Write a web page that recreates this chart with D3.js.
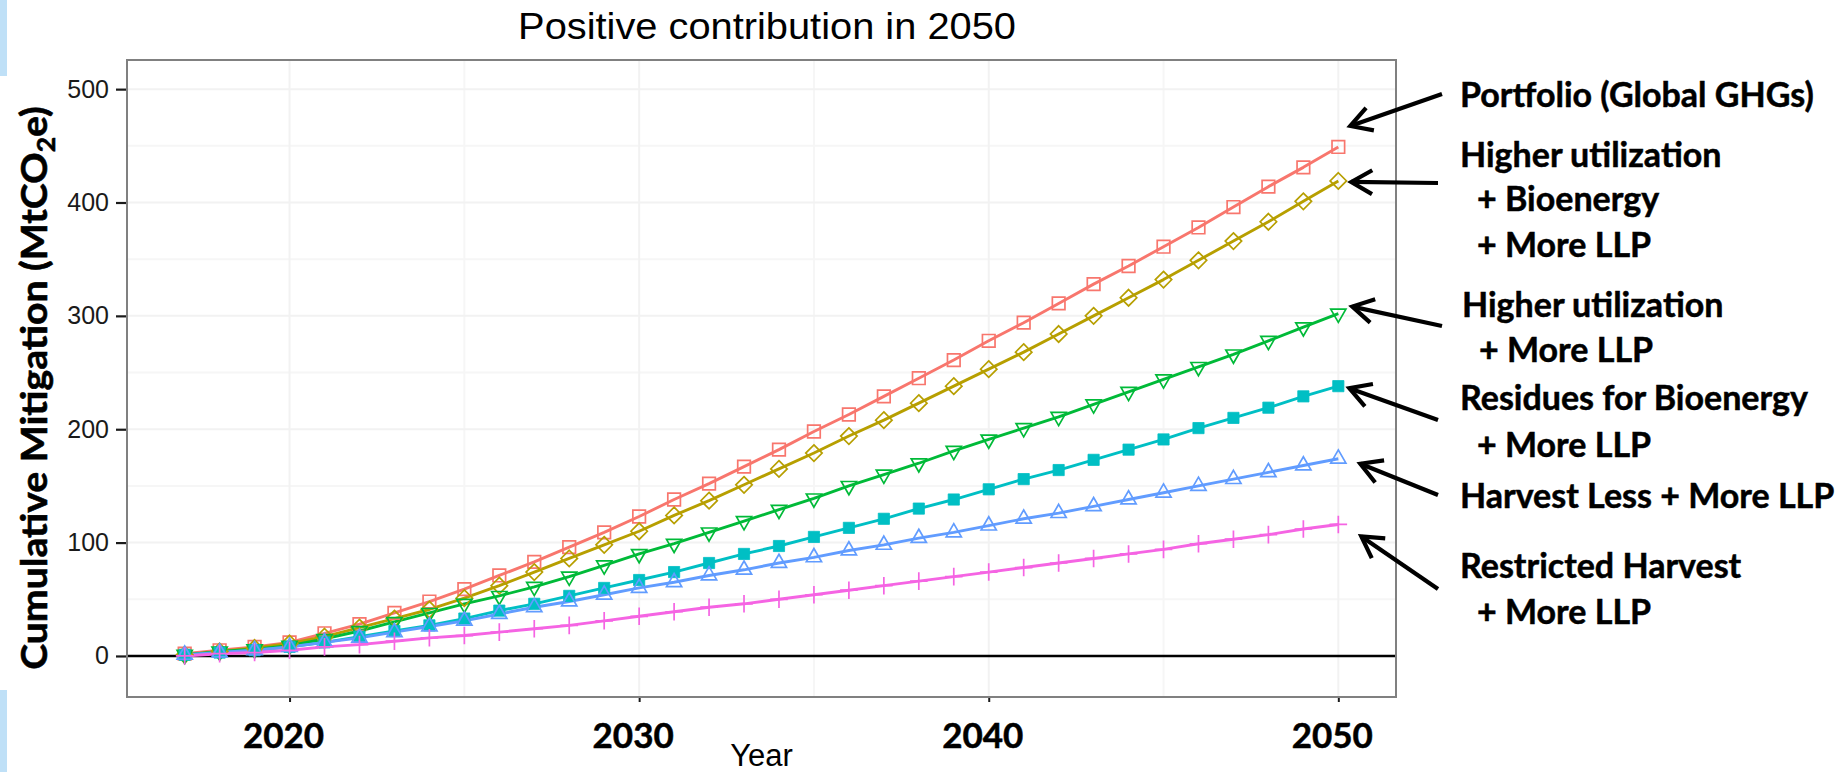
<!DOCTYPE html>
<html>
<head>
<meta charset="utf-8">
<script src="https://cdn.jsdelivr.net/npm/d3@7"></script>
<style>
  html, body { margin: 0; padding: 0; background: #ffffff; }
  svg { display: block; }
</style>
</head>
<body>
<svg id="chart" width="1843" height="772"></svg>
<script>
// ---- data -------------------------------------------------------------
const years = d3.range(2017, 2051);

const portfolio       = [2, 5, 8, 12, 20, 28, 38, 48, 59, 71, 83, 96, 109, 123, 138, 152, 167, 182, 198, 213, 229, 245, 261, 278, 294, 311, 328, 344, 361, 378, 396, 414, 431, 449];
const higherUtilBio   = [1, 4, 7, 11, 17, 25, 33, 41, 51, 62, 74, 86, 98, 110, 124, 137, 151, 165, 179, 194, 208, 223, 238, 253, 268, 284, 300, 316, 332, 349, 366, 383, 401, 419];
const higherUtilLLP   = [1, 4, 6, 9, 15, 22, 30, 38, 46, 53, 61, 70, 80, 90, 99, 109, 119, 129, 139, 150, 160, 170, 181, 191, 201, 211, 222, 233, 244, 255, 266, 278, 290, 302];
const residuesBio     = [1, 3, 5, 8, 12, 17, 22, 27, 33, 40, 46, 53, 60, 67, 74, 82, 90, 97, 105, 113, 121, 130, 138, 147, 156, 164, 173, 182, 191, 201, 210, 219, 229, 238];
const harvestLess     = [1, 3, 5, 8, 12, 16, 21, 26, 31, 37, 43, 48, 54, 60, 65, 71, 76, 82, 87, 93, 98, 104, 109, 115, 121, 126, 132, 138, 144, 150, 156, 162, 168, 174];
const restrictedHarv  = [0, 2, 3, 5, 8, 10, 13, 16, 18, 21, 24, 27, 31, 35, 39, 43, 46, 50, 54, 58, 62, 66, 70, 74, 78, 82, 86, 90, 94, 99, 103, 107, 112, 116];

const seriesValues = [portfolio, higherUtilBio, higherUtilLLP, residuesBio, harvestLess, restrictedHarv];
const seriesColors = ["#F8766D", "#B79F00", "#00BA38", "#00BFC4", "#619CFF", "#F564E3"];
const seriesShapes = ["square", "diamond", "triangleDown", "squareFilled", "triangleUp", "plus"];

const seriesLabels = [
  ["Portfolio (Global GHGs)"],
  ["Higher utilization", "+ Bioenergy", "+ More LLP"],
  ["Higher utilization", "+ More LLP"],
  ["Residues for Bioenergy", "+ More LLP"],
  ["Harvest Less + More LLP"],
  ["Restricted Harvest", "+ More LLP"]
];

const yTicks = [0, 100, 200, 300, 400, 500];
const yMinor = [50, 150, 250, 350, 450];
const xTicks = [2020, 2030, 2040, 2050];
const xMinor = [2025, 2035, 2045];
const xTickLabels = ["2020", "2030", "2040", "2050"];

const titleText = "Positive contribution in 2050";
const xTitle = "Year";

// ---- layout -----------------------------------------------------------
const svg = d3.select("#chart");
const panel = { left: 127, right: 1396, top: 60, bottom: 697 };

const x = d3.scaleLinear().domain([2015.35, 2051.65]).range([panel.left, panel.right]);
const y = d3.scaleLinear().domain([-36.2, 525.7]).range([panel.bottom, panel.top]);

const labelFont = "Lato, 'Open Sans', sans-serif";
const plotFont = "'Liberation Sans', Arial, sans-serif";

// horizontal factor that brings a text element to a given width
function fitWidth(sel, target) {
  const w = sel.node().getComputedTextLength();
  return w > 0 ? target / w : 1;
}

svg.append("rect").attr("width", 1843).attr("height", 772).attr("fill", "#ffffff");

// slide edge strips
svg.append("rect").attr("x", 0).attr("y", 0).attr("width", 7).attr("height", 76).attr("fill", "#bfe0f7");
svg.append("rect").attr("x", 0).attr("y", 690).attr("width", 7).attr("height", 82).attr("fill", "#bfe0f7");

// ---- panel grid -------------------------------------------------------
const grid = svg.append("g");
grid.selectAll("line.ymin").data(yMinor).join("line")
  .attr("x1", panel.left).attr("x2", panel.right)
  .attr("y1", d => y(d)).attr("y2", d => y(d))
  .attr("stroke", "#f6f6f6").attr("stroke-width", 2);
grid.selectAll("line.xmin").data(xMinor).join("line")
  .attr("y1", panel.top).attr("y2", panel.bottom)
  .attr("x1", d => x(d)).attr("x2", d => x(d))
  .attr("stroke", "#f6f6f6").attr("stroke-width", 2);
grid.selectAll("line.ymaj").data(yTicks).join("line")
  .attr("x1", panel.left).attr("x2", panel.right)
  .attr("y1", d => y(d)).attr("y2", d => y(d))
  .attr("stroke", "#f2f2f2").attr("stroke-width", 2);
grid.selectAll("line.xmaj").data(xTicks).join("line")
  .attr("y1", panel.top).attr("y2", panel.bottom)
  .attr("x1", d => x(d)).attr("x2", d => x(d))
  .attr("stroke", "#f2f2f2").attr("stroke-width", 2);

// zero reference line
svg.append("line")
  .attr("x1", panel.left).attr("x2", panel.right)
  .attr("y1", y(0)).attr("y2", y(0))
  .attr("stroke", "#000").attr("stroke-width", 2.6);

// ---- series -----------------------------------------------------------
const line = d3.line().x((d, i) => x(years[i])).y(d => y(d));

svg.append("g").selectAll("path").data(seriesValues).join("path")
  .attr("d", d => line(d))
  .attr("fill", "none")
  .attr("stroke", (d, i) => seriesColors[i])
  .attr("stroke-width", 2.9)
  .attr("stroke-linejoin", "round");

function shapePath(kind) {
  switch (kind) {
    case "square": { const s = 6.3; return `M${-s},${-s}H${s}V${s}H${-s}Z`; }
    case "squareFilled": { const s = 5.6; return `M${-s},${-s}H${s}V${s}H${-s}Z`; }
    case "diamond": { const d = 8.2; return `M0,${-d}L${d},0L0,${d}L${-d},0Z`; }
    case "triangleUp": { const r = 8.8, xc = 7.6, yc = 4.4; return `M0,${-r}L${xc},${yc}L${-xc},${yc}Z`; }
    case "triangleDown": { const r = 8.8, xc = 7.6, yc = 4.4; return `M0,${r}L${xc},${-yc}L${-xc},${-yc}Z`; }
    case "plus": { const p = 8.8; return `M${-p},0H${p}M0,${-p}V${p}`; }
  }
}

seriesValues.forEach((vals, i) => {
  const filled = seriesShapes[i] === "squareFilled";
  svg.append("g").selectAll("path").data(vals).join("path")
    .attr("transform", (d, j) => `translate(${x(years[j])},${y(d)})`)
    .attr("d", shapePath(seriesShapes[i]))
    .attr("fill", filled ? seriesColors[i] : "none")
    .attr("stroke", seriesColors[i])
    .attr("stroke-width", filled ? 0.8 : 1.7);
});

// panel border
svg.append("rect")
  .attr("x", panel.left).attr("y", panel.top)
  .attr("width", panel.right - panel.left).attr("height", panel.bottom - panel.top)
  .attr("fill", "none").attr("stroke", "#808080").attr("stroke-width", 2);

// ---- axes -------------------------------------------------------------
const yAxis = svg.append("g").attr("transform", `translate(${panel.left - 1},0)`)
  .call(d3.axisLeft(y).tickValues(yTicks).tickSize(10).tickPadding(7).tickFormat(d3.format("d")));
yAxis.select(".domain").remove();
yAxis.selectAll(".tick line").attr("stroke", "#1a1a1a").attr("stroke-width", 2.2);
yAxis.selectAll(".tick text")
  .attr("font-family", plotFont).attr("font-size", 25).attr("fill", "#1a1a1a");

const xAxis = svg.append("g").attr("transform", `translate(0,${panel.bottom + 1})`)
  .call(d3.axisBottom(x).tickValues(xTicks).tickSize(4).tickFormat(""));
xAxis.select(".domain").remove();
xAxis.selectAll(".tick line").attr("stroke", "#1a1a1a").attr("stroke-width", 2);

// bold year labels under the panel
svg.append("g").selectAll("text").data(xTicks).join("text")
  .attr("x", d => x(d) - 6)
  .attr("y", 748)
  .attr("text-anchor", "middle")
  .attr("font-family", labelFont).attr("font-weight", 700).attr("font-size", 35)
  .attr("fill", "#000").attr("stroke", "#000").attr("stroke-width", 0.5)
  .text((d, i) => xTickLabels[i]);

// axis title
svg.append("text")
  .attr("x", (panel.left + panel.right) / 2).attr("y", 766)
  .attr("text-anchor", "middle")
  .attr("font-family", plotFont).attr("font-size", 31).attr("fill", "#000")
  .text(xTitle);

// y axis title (rotated)
const yTitle = svg.append("text")
  .attr("text-anchor", "middle")
  .attr("font-family", labelFont).attr("font-weight", 700).attr("font-size", 37)
  .attr("fill", "#000").attr("stroke", "#000").attr("stroke-width", 0.6);
yTitle.append("tspan").text("Cumulative Mitigation (MtCO");
yTitle.append("tspan").attr("font-size", 25).attr("dy", 8).text("2");
yTitle.append("tspan").attr("dy", -8).text("e)");
{
  const k = fitWidth(yTitle, 564);
  yTitle.attr("transform", `translate(47,388) rotate(-90) scale(${k},1)`);
}

// chart title
const title = svg.append("text")
  .attr("text-anchor", "middle")
  .attr("font-family", plotFont).attr("font-size", 37).attr("fill", "#000")
  .text(titleText);
{
  const k = fitWidth(title, 498);
  title.attr("transform", `translate(767,39) scale(${k},1)`);
}

// ---- scenario annotations ---------------------------------------------
// text block anchors (left edge / baselines) and arrow tail points
const labelLayout = [
  { x: 1460, base: [107] },
  { x: 1460, base: [167, 211, 257] },
  { x: 1462, base: [317, 362] },
  { x: 1460, base: [410, 457] },
  { x: 1460, base: [508] },
  { x: 1460, base: [578, 624] }
];
const arrowTails = [[1442, 94], [1438, 183], [1442, 326], [1438, 420], [1438, 495], [1438, 589]];
const arrowTipOffset = [[12, -21], [13, 1], [14, -7], [11, 2], [22, 5], [23, 12]];

const ann = svg.append("g");
seriesLabels.forEach((lines, i) => {
  const L = labelLayout[i];
  lines.forEach((t, j) => {
    const indent = t.startsWith("+") ? 17 : 0;
    ann.append("text")
      .attr("x", L.x + indent).attr("y", L.base[j])
      .attr("font-family", labelFont).attr("font-weight", 700).attr("font-size", 34)
      .attr("fill", "#000").attr("stroke", "#000").attr("stroke-width", 0.5)
      .text(t);
  });

  const last = seriesValues[i][seriesValues[i].length - 1];
  const tip = [x(years[years.length - 1]) + arrowTipOffset[i][0], y(last) + arrowTipOffset[i][1]];
  const tail = arrowTails[i];
  const ang = Math.atan2(tail[1] - tip[1], tail[0] - tip[0]);
  const arm = 24, spread = 0.52;
  const a1 = [tip[0] + arm * Math.cos(ang + spread), tip[1] + arm * Math.sin(ang + spread)];
  const a2 = [tip[0] + arm * Math.cos(ang - spread), tip[1] + arm * Math.sin(ang - spread)];
  ann.append("line")
    .attr("x1", tail[0]).attr("y1", tail[1]).attr("x2", tip[0]).attr("y2", tip[1])
    .attr("stroke", "#000").attr("stroke-width", 4.2);
  ann.append("path")
    .attr("d", `M${a1[0]},${a1[1]}L${tip[0]},${tip[1]}L${a2[0]},${a2[1]}`)
    .attr("fill", "none").attr("stroke", "#000").attr("stroke-width", 4.2)
    .attr("stroke-linejoin", "miter");
});
</script>
</body>
</html>
